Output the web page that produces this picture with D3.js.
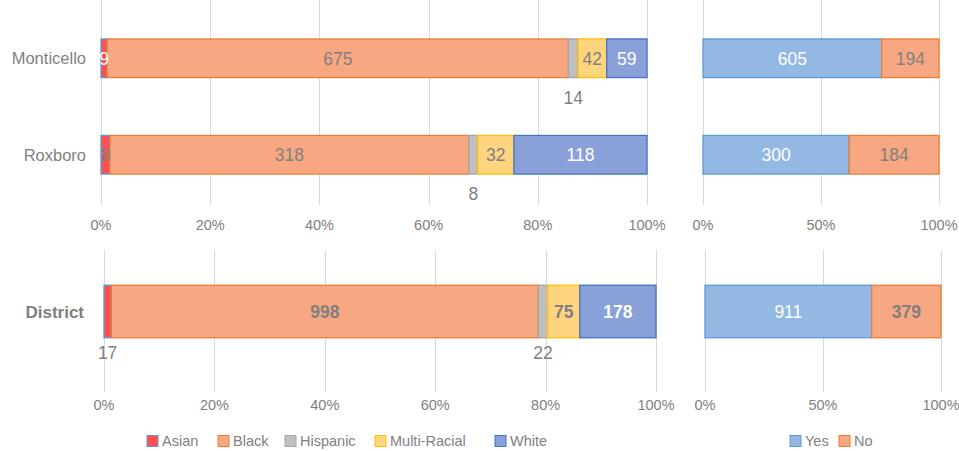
<!DOCTYPE html>
<html>
<head>
<meta charset="utf-8">
<script src="https://cdn.jsdelivr.net/npm/d3@7"></script>
<style>
  body { margin: 0; background: #fff; }
  svg { font-family: "Liberation Sans", Arial, sans-serif; }
  .grid line { stroke: #d9d9d9; stroke-width: 1; }
  .tick-label { fill: #808080; font-size: 14.5px; }
</style>
</head>
<body>
<svg id="chart" width="959" height="451"></svg>
<script>
// data
const schools = ["Monticello", "Roxboro"];
const races = ["Asian", "Black", "Hispanic", "Multi-Racial", "White"];
const raceValues = {
  Monticello: [9, 675, 14, 42, 59],
  Roxboro: [8, 318, 8, 32, 118]
};
const districtRace = [17, 998, 22, 75, 178];
const answers = ["Yes", "No"];
const answerValues = {
  Monticello: [605, 194],
  Roxboro: [300, 184]
};
const districtAnswer = [911, 379];
const raceTicks = [0, 0.2, 0.4, 0.6, 0.8, 1];
const answerTicks = [0, 0.5, 1];

// styles
const fills = { "Asian": "#ff5050", "Black": "#f7a883", "Hispanic": "#bfbfbf", "Multi-Racial": "#ffd47f", "White": "#8aa0d9", "Yes": "#93b8e3", "No": "#f7a883" };
const strokes = { "Asian": "#5b9bd5", "Black": "#ed7d31", "Hispanic": "#a5a5a5", "Multi-Racial": "#ffc000", "White": "#4472c4", "Yes": "#5b9bd5", "No": "#ed7d31" };
const textCol = { "Asian": "#7f7f7f", "Black": "#7f7f7f", "Hispanic": "#7f7f7f", "Multi-Racial": "#7f7f7f", "White": "#ffffff", "Yes": "#ffffff", "No": "#7f7f7f" };

const svg = d3.select("#chart");

function stackRows(rows, keys) {
  return rows.map(r => {
    const total = d3.sum(r.values);
    let acc = 0;
    return { name: r.name, segs: r.values.map((v, i) => {
      const s = { key: keys[i], value: v, x0: acc / total, x1: (acc + v) / total, idx: i };
      acc += v;
      return s;
    })};
  });
}

function panel(opts) {
  const x = d3.scaleLinear().domain([0, 1]).range(opts.xr);
  const y = d3.scaleBand().domain(opts.rows.map(r => r.name)).range(opts.yr).paddingInner(opts.pad).paddingOuter(opts.pad / 2);
  const g = svg.append("g");

  g.append("g").attr("class", "grid").selectAll("line").data(opts.ticks).join("line")
    .attr("x1", d => Math.round(x(d)) + 0.5).attr("x2", d => Math.round(x(d)) + 0.5)
    .attr("y1", opts.gy[0]).attr("y2", opts.gy[1]);

  g.selectAll(".tick-label").data(opts.ticks).join("text")
    .attr("class", "tick-label")
    .attr("x", d => x(d)).attr("y", opts.tickY)
    .attr("text-anchor", "middle")
    .text(d => d3.format(".0%")(d));

  const data = stackRows(opts.rows, opts.keys);
  const row = g.selectAll(".row").data(data).join("g")
    .attr("transform", d => `translate(0,${y(d.name)})`);

  row.selectAll("rect").data(d => d.segs).join("rect")
    .attr("x", d => x(d.x0)).attr("width", d => x(d.x1) - x(d.x0))
    .attr("y", 0).attr("height", y.bandwidth())
    .attr("fill", d => fills[d.key]).attr("stroke", d => strokes[d.key]).attr("stroke-width", 1.3);

  row.each(function(r, ri) {
    d3.select(this).selectAll("text.val").data(r.segs).join("text")
      .attr("class", "val")
      .attr("x", d => x((d.x0 + d.x1) / 2))
      .attr("y", d => opts.below(d) ? y.bandwidth() + opts.belowDy : y.bandwidth() / 2)
      .attr("dy", "0.36em")
      .attr("text-anchor", "middle")
      .attr("font-size", 17.5)
      .attr("font-weight", d => opts.bold(d) ? "bold" : "normal")
      .attr("fill", d => opts.below(d) ? "#7f7f7f" : opts.color(d, ri))
      .text(d => d.value);
  });

  if (opts.labels) {
    g.selectAll(".cat").data(opts.rows).join("text")
      .attr("x", opts.labelX).attr("y", d => y(d.name) + y.bandwidth() / 2)
      .attr("dy", "0.36em").attr("text-anchor", "end")
      .attr("font-size", opts.labelSize).attr("font-weight", opts.labelWeight)
      .attr("fill", "#7f7f7f")
      .text(d => d.name);
  }
}

// top race panel
panel({
  rows: schools.map(s => ({ name: s, values: raceValues[s] })),
  keys: races, ticks: raceTicks,
  xr: [101, 647], yr: [10, 203], pad: 0.6, gy: [0, 205], tickY: 230,
  below: d => d.key === "Hispanic", belowDy: 20,
  bold: () => false,
  color: (d, ri) => (d.key === "Asian" && ri === 0) ? "#ffffff" : textCol[d.key],
  labels: true, labelX: 86, labelSize: 16.5, labelWeight: "normal"
});

// top yes/no panel
panel({
  rows: schools.map(s => ({ name: s, values: answerValues[s] })),
  keys: answers, ticks: answerTicks,
  xr: [703, 939], yr: [10, 203], pad: 0.6, gy: [0, 205], tickY: 230,
  below: () => false, belowDy: 20,
  bold: () => false,
  color: d => textCol[d.key],
  labels: false
});

// district race panel
panel({
  rows: [{ name: "District", values: districtRace }],
  keys: races, ticks: raceTicks,
  xr: [104, 656], yr: [259, 364], pad: 0.5, gy: [250, 392], tickY: 410,
  below: d => d.key === "Asian" || d.key === "Hispanic", belowDy: 15,
  bold: d => d.key !== "Asian" && d.key !== "Hispanic",
  color: d => textCol[d.key],
  labels: true, labelX: 84, labelSize: 17, labelWeight: "bold"
});

// district yes/no panel
panel({
  rows: [{ name: "District", values: districtAnswer }],
  keys: answers, ticks: answerTicks,
  xr: [705, 941], yr: [259, 364], pad: 0.5, gy: [250, 392], tickY: 410,
  below: () => false, belowDy: 15,
  bold: d => d.key === "No",
  color: d => textCol[d.key],
  labels: false
});

// legends
function legend(keys, xs, yPos) {
  const lg = svg.append("g").selectAll("g").data(keys).join("g")
    .attr("transform", (d, i) => `translate(${xs[i]},${yPos})`);
  lg.append("rect").attr("x", 0).attr("y", -5.5).attr("width", 11).attr("height", 11)
    .attr("fill", d => fills[d]).attr("stroke", d => strokes[d]).attr("stroke-width", 1);
  lg.append("text").attr("x", 15).attr("y", 0).attr("dy", "0.36em")
    .attr("font-size", 14.5).attr("fill", "#7f7f7f").text(d => d);
}
legend(races, [147, 218, 285, 375, 495], 441);
legend(answers, [790, 839], 441);
</script>
</body>
</html>
